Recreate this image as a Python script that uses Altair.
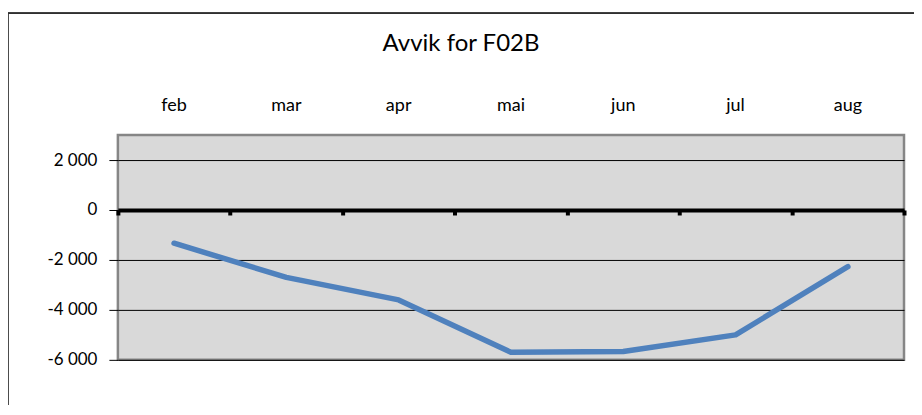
import altair as alt
import pandas as pd

months = ["feb", "mar", "apr", "mai", "jun", "jul", "aug"]
avvik = [-1330, -2700, -3600, -5700, -5670, -5000, -2270]
y_ticks = [-6000, -4000, -2000, 0, 2000]

df = pd.DataFrame({"month": months, "avvik": avvik})

FONT = "Lato"

x_scale = alt.Scale(domain=months, paddingInner=0, paddingOuter=0)
y_scale = alt.Scale(domain=[-6000, 3000], nice=False, zero=False)

y_axis = alt.Axis(
    values=y_ticks,
    title=None,
    grid=True,
    gridColor="black",
    gridWidth=1,
    domain=False,
    ticks=True,
    tickColor="black",
    tickSize=9,
    labelPadding=12,
    labelFont=FONT,
    labelFontSize=17,
    labelColor="black",
    labelExpr="(datum.value < 0 ? '-' : '') + replace(format(abs(datum.value), ','), ',', ' ')",
)

line = alt.Chart(df).mark_line(color="#4f81bd", strokeWidth=5.5, strokeCap="round", strokeJoin="round").encode(
    x=alt.X("month:N", scale=x_scale, sort=months,
            axis=alt.Axis(orient="top", title=None, domain=False, ticks=False,
                          labelAngle=0, labelFont=FONT, labelFontSize=18, labelColor="black",
                          labelPadding=21)),
    y=alt.Y("avvik:Q", scale=y_scale, axis=y_axis),
)

zero_axis = alt.Chart(df).mark_point(opacity=0).encode(
    x=alt.X("month:N", scale=x_scale, sort=months,
            axis=alt.Axis(orient="bottom", title=None, labels=False, offset=-150,
                          domain=True, domainColor="black", domainWidth=4,
                          ticks=True, tickColor="black", tickWidth=4, tickSize=5,
                          tickBand="extent", grid=False)),
    y=alt.Y("avvik:Q", scale=y_scale, axis=y_axis),
)

frame_top = alt.Chart(df).mark_rule(color="#303030", strokeWidth=1).encode(
    x=alt.value(-111), x2=alt.value(803), y=alt.value(-122)
)
frame_left = alt.Chart(df).mark_rule(color="#303030", strokeWidth=1.5).encode(
    x=alt.value(-110.5), y=alt.value(-122), y2=alt.value(300)
)

chart = alt.layer(frame_top, frame_left, line, zero_axis).resolve_axis(x="independent").properties(
    width=787,
    height=225,
    autosize=alt.AutoSizeParams(type="none"),
    padding={"left": 110, "top": 127, "right": 10, "bottom": 45},
    title=alt.TitleParams("Avvik for F02B", font=FONT, fontSize=24, fontWeight="normal",
                          color="black", anchor="middle", dx=-50, offset=-44),
).configure(
    background="white",
    view=alt.ViewConfig(fill="#d9d9d9", stroke="#868686", strokeWidth=2.5),
)

chart.save("out.html", embed_options={"renderer": "svg", "actions": False})
